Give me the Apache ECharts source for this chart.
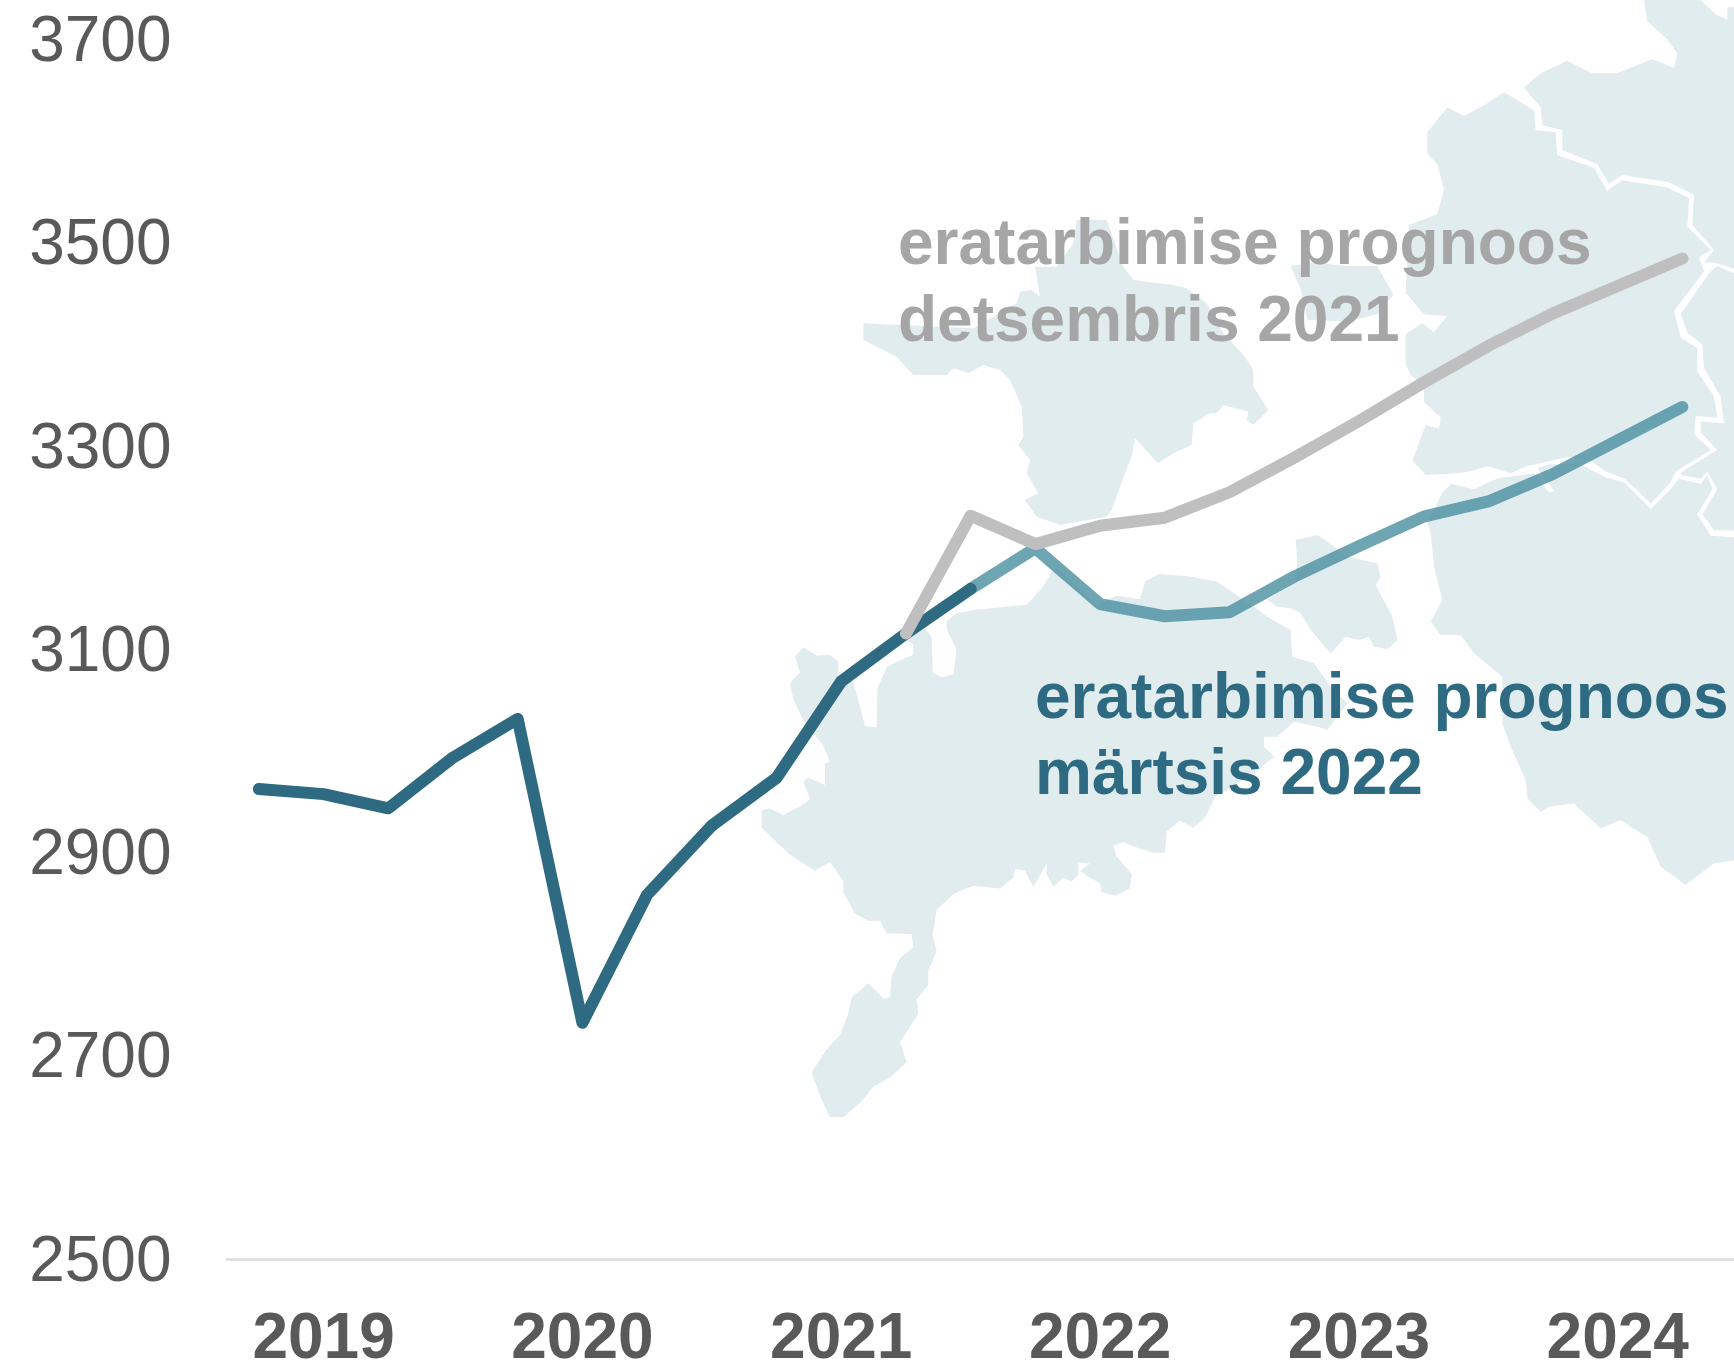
<!DOCTYPE html>
<html>
<head>
<meta charset="utf-8">
<style>html,body{margin:0;padding:0;background:#fff}#c{width:1734px;height:1361px}</style>
<script src="https://cdn.jsdelivr.net/npm/echarts@6/dist/echarts.min.js"></script>
</head>
<body>
<div id="c"></div>
<script>
// ---- data ----
const quarters = [
  '2019 K1','2019 K2','2019 K3','2019 K4',
  '2020 K1','2020 K2','2020 K3','2020 K4',
  '2021 K1','2021 K2','2021 K3','2021 K4',
  '2022 K1','2022 K2','2022 K3','2022 K4',
  '2023 K1','2023 K2','2023 K3','2023 K4',
  '2024 K1','2024 K2','2024 K3','2024 K4'
];
const yTickLabels = [2500, 2700, 2900, 3100, 3300, 3500, 3700];
const actual = [2963, 2958, 2944, 2994, 3032, 2733, 2859, 2927, 2974, 3069, 3116, 3160, null, null, null, null, null, null, null, null, null, null, null, null];
const forecastMarch2022 = [null, null, null, null, null, null, null, null, null, null, null, 3160, 3200, 3145, 3133, 3137, 3172, 3202, 3231, 3246, 3273, 3306, 3339, null];
const forecastDec2021 = [null, null, null, null, null, null, null, null, null, null, 3116, 3232, 3204, 3222, 3230, 3255, 3289, 3325, 3363, 3399, 3431, 3458, 3485, null];
const grayLabel = ['eratarbimise prognoos', 'detsembris 2021'];
const tealLabel = ['eratarbimise prognoos', 'märtsis 2022'];

// ---- decorative background map outline (not data) ----
const seg = (x0, y0, kx, ky, pts) => pts.map(p => [x0 + p[0] / kx, y0 + p[1] / ky]);
const z3 = pts => seg(740, 560, 3, 2.8, pts);
const z4 = pts => seg(840, 200, 3, 3, pts);
const z5 = pts => seg(1234, 0, 3, 2.8, pts);
const z6 = pts => seg(1234, 440, 3, 3, pts);
const landShapes = [
  [].concat(
    z3([[165,270],[190,245],[230,268],[270,265],[295,285],[295,325],[340,340],[375,465],[410,468],[412,360],[440,300],[470,285],[520,265],[520,235],[480,215],[540,175],[575,215],[578,315],[605,328],[640,320],[650,250],[620,195],[620,170],[650,150],[700,140],[860,125],[905,80],[935,35],[950,20],[1070,125],[1130,100],[1200,110],[1215,60],[1255,40],[1340,45],[1430,60],[1500,105]]),
    z6([[60,500],[100,530],[170,570],[175,650],[240,670],[290,740],[340,790],[280,870],[250,860],[180,845],[130,890],[90,890],[90,920],[120,950],[60,1000]]),
    z3([[1425,665],[1395,720],[1360,750],[1320,730],[1280,760],[1275,820],[1240,820],[1190,805],[1150,790],[1120,800],[1130,830],[1175,880],[1170,920],[1125,940],[1085,930],[1080,905],[1050,890],[1020,870],[1050,850],[1015,848],[1015,880],[995,900],[970,890],[940,915],[920,880],[920,850],[880,915],[855,870],[825,865],[820,890],[780,920],[700,912],[640,935],[590,980],[578,1050],[590,1095],[565,1150],[565,1190],[530,1230],[535,1270],[480,1350],[500,1405],[450,1450],[400,1475],[360,1520],[310,1560],[270,1560],[240,1500],[215,1435],[235,1405],[260,1370],[300,1330],[325,1270],[335,1225],[385,1185],[430,1228],[450,1225],[455,1165],[480,1115],[520,1085],[515,1048],[440,1045],[420,1010],[385,1010],[345,990],[310,930],[310,900],[270,845],[225,870],[150,825],[110,790],[65,750],[65,700],[90,695],[130,715],[180,690],[210,670],[190,620],[205,610],[255,630],[255,570],[270,565],[250,520],[190,450],[160,390],[150,345],[180,315]])
  ),
  z6([[185,300],[250,285],[300,320],[340,350],[430,370],[440,410],[425,435],[475,530],[490,600],[460,628],[420,620],[405,590],[375,600],[335,590],[290,640],[230,570],[200,520],[170,505],[130,500],[100,480],[180,430],[190,370]]),
  z4([[70,370],[180,375],[400,385],[530,310],[540,275],[575,270],[600,290],[585,200],[650,200],[700,130],[710,60],[800,60],[850,200],[880,240],[1000,255],[1040,265],[1100,310],[1150,400],[1215,470],[1240,510],[1240,560],[1285,630],[1240,675],[1220,660],[1225,635],[1150,615],[1130,640],[1110,640],[1060,670],[1055,735],[1000,760],[955,790],[885,715],[875,770],[855,820],[815,930],[800,950],[660,975],[590,950],[555,900],[595,880],[560,820],[570,780],[535,735],[550,710],[545,620],[510,540],[480,510],[430,495],[385,520],[340,505],[320,525],[220,525],[170,470],[70,420]]),
  z5([[170,745],[240,735],[340,745],[430,745],[478,825],[430,880],[340,900],[220,895],[200,810]]),
  z5([[580,370],[640,300],[690,325],[750,295],[810,258],[850,280],[900,310],[905,365],[965,370],[970,435],[1080,470],[1120,535],[1165,505],[1300,525],[1365,555],[1360,635],[1430,700],[1395,720],[1410,760],[1320,870],[1340,945],[1390,975],[1390,1040],[1440,1110],[1450,1170],[1385,1165],[1380,1215],[1430,1260],[1325,1320],[1310,1350],[1250,1410],[1195,1360],[1170,1340],[1115,1320],[1070,1290],[1000,1280],[950,1290],[905,1300],[880,1305],[830,1325],[760,1305],[710,1320],[665,1325],[575,1330],[535,1290],[575,1190],[615,1200],[620,1170],[570,1125],[570,1080],[530,1050],[515,1020],[515,935],[565,905],[600,930],[640,885],[570,880],[515,820],[525,630],[610,600],[630,530],[610,460],[580,430]]),
  [].concat(
    z5([[625,1380],[650,1355],[720,1370],[790,1340],[900,1325],[945,1380],[960,1375],[910,1310],[950,1300],[1040,1300],[1110,1335],[1170,1350],[1250,1425],[1310,1370],[1335,1340],[1400,1355],[1420,1330],[1435,1370],[1390,1440],[1430,1500],[1510,1505]]),
    z6([[1510,1260],[1440,1270],[1355,1335],[1280,1280],[1240,1190],[1220,1180],[1160,1140],[1100,1165],[1030,1100],[1020,1090],[945,1100],[920,1115],[880,1075],[875,1020],[830,920],[805,850],[805,710],[720,640],[680,585],[620,585],[590,545],[625,480],[600,380],[590,280],[580,250]])
  ),
  z5([[870,245],[920,205],[1000,170],[1075,205],[1150,205],[1255,165],[1320,190],[1330,150],[1300,110],[1240,60],[1230,0],[1400,0],[1445,40],[1480,55],[1480,20],[1510,20],[1510,755],[1440,735],[1410,735],[1440,700],[1375,630],[1380,545],[1305,510],[1165,490],[1125,515],[1090,460],[985,420],[985,365],[925,350],[920,300]]),
  z5([[1425,765],[1450,745],[1510,770],[1510,1485],[1440,1485],[1405,1440],[1450,1370],[1420,1320],[1400,1340],[1340,1330],[1345,1320],[1450,1260],[1400,1210],[1400,1180],[1470,1185],[1460,1110],[1410,1030],[1405,965],[1360,930],[1340,880]])
];

const font = '"Liberation Sans", Arial, sans-serif';
const textEl = (t, x, y, color) => ({
  type: 'text', x, y, z: 20, silent: true,
  style: { text: t, fill: color, font: 'bold 64px ' + font, textAlign: 'left', textVerticalAlign: 'middle' }
});

const chart = echarts.init(document.getElementById('c'), null, { renderer: 'canvas' });
chart.setOption({
  animation: false,
  backgroundColor: '#ffffff',
  grid: { left: 226.5, top: 40, width: 1553, height: 1219.6, containLabel: false, outerBoundsMode: 'none' },
  xAxis: {
    type: 'category',
    data: quarters,
    boundaryGap: true,
    axisLine: { show: true, lineStyle: { color: '#dddddd', width: 2.5 } },
    axisTick: { show: false },
    splitLine: { show: false },
    axisLabel: {
      interval: (i) => i % 4 === 1,
      formatter: (v) => v.slice(0, 4),
      color: '#595959',
      fontFamily: font,
      fontSize: 64,
      fontWeight: 'bold',
      margin: 49,
      hideOverlap: false
    }
  },
  yAxis: {
    type: 'value',
    min: 2500,
    max: 3700,
    interval: 100,
    axisLine: { show: false },
    axisTick: { show: false },
    splitLine: { show: false },
    axisLabel: {
      formatter: (v) => yTickLabels.includes(v) ? String(v) : '',
      color: '#595959',
      fontFamily: font,
      fontSize: 64,
      margin: 55,
      verticalAlign: 'top',
      lineHeight: 7,
      showMinLabel: true,
      showMaxLabel: true,
      hideOverlap: false
    }
  },
  graphic: {
    elements: landShapes.map(s => ({
      type: 'polygon', z: 0, silent: true,
      shape: { points: s },
      style: { fill: '#e1ecef' }
    })).concat([
      textEl(grayLabel[0], 898, 246, '#a6a6a6'),
      textEl(grayLabel[1], 898, 323, '#a6a6a6'),
      textEl(tealLabel[0], 1035, 700, '#2e6b82'),
      textEl(tealLabel[1], 1035, 776, '#2e6b82')
    ])
  },
  series: [
    {
      type: 'line', name: 'märtsis 2022', data: forecastMarch2022, z: 3, symbol: 'none', connectNulls: false,
      lineStyle: { color: 'rgba(74,143,160,0.8)', width: 12, cap: 'round', join: 'round' }
    },
    {
      type: 'line', name: 'tegelik', data: actual, z: 4, symbol: 'none', connectNulls: false,
      lineStyle: { color: '#2e6b82', width: 12, cap: 'round', join: 'round' }
    },
    {
      type: 'line', name: 'detsembris 2021', data: forecastDec2021, z: 5, symbol: 'none', connectNulls: false,
      lineStyle: { color: '#bfbfbf', width: 12, cap: 'round', join: 'round' }
    }
  ]
});
</script>
</body>
</html>
